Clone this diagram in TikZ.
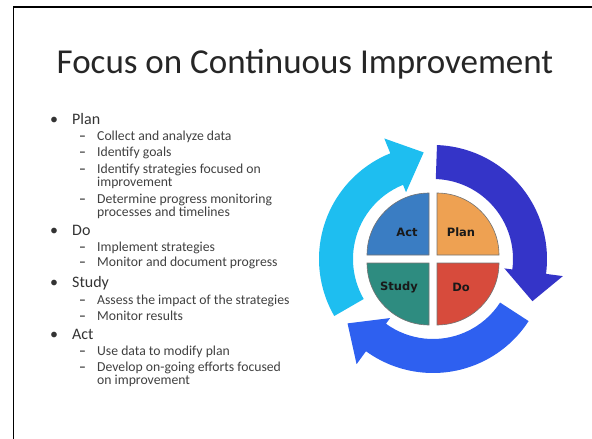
\documentclass[tikz,border=0pt]{standalone}
\usepackage{fontspec}
\setmainfont{Carlito}
\newfontfamily\labelfont{DejaVu Sans}
\usetikzlibrary{positioning}
\definecolor{cyanarrow}{HTML}{1EBEF0}
\definecolor{darkarrow}{HTML}{3434C8}
\definecolor{royalarrow}{HTML}{2E60F0}
\definecolor{actblue}{HTML}{3A7DC3}
\definecolor{planorange}{HTML}{EEA152}
\definecolor{studyteal}{HTML}{2E8C80}
\definecolor{dored}{HTML}{D74B3C}
\tikzstyle{heading} = [font=\fontsize{35}{40}\selectfont, anchor=base, inner sep=0pt, text=black!85]
\tikzstyle{mainitem} = [font=\fontsize{16}{18}\selectfont, anchor=base west, inner sep=0pt, text=black!80]
\tikzstyle{subitem} = [font=\fontsize{13.7}{13}\selectfont, anchor=base west, inner sep=0pt, align=left, text=black!75]
\tikzstyle{quarter} = [draw=black!55, line width=0.6pt]
\tikzstyle{quarterlabel} = [font=\labelfont\bfseries\fontsize{11.5}{12}\selectfont, text=black!90, inner sep=0pt]
\newcommand{\bul}{\makebox[22pt][l]{\textbullet}}
\newcommand{\dsh}{\makebox[18pt][l]{\textbf{\textendash}}}

\begin{document}
\begin{tikzpicture}[x=1pt, y=1pt]
    \useasboundingbox (0,0) rectangle (592,-439);
    \draw [line width=1.8pt] (13.5,-439) |- (592,-7);

    \node (title) [heading] at (305,-73) {Focus on Continuous Improvement};

    % list (wrapped items sit on their last line)
    \node (plan) [mainitem] at (50,-124.3) {\bul Plan};
    \node (collect) [subitem] at (79,-140.7) {\dsh Collect and analyze data};
    \node (goals) [subitem] at (79,-156.7) {\dsh Identify goals};
    \node (strat) [subitem] at (79,-186) {\dsh Identify strategies focused on\\\hspace*{18pt}improvement};
    \node (determine) [subitem] at (79,-216) {\dsh Determine progress monitoring\\\hspace*{18pt}processes and timelines};
    \node (do) [mainitem] at (50,-235.7) {\bul Do};
    \node (implement) [subitem] at (79,-251.7) {\dsh Implement strategies};
    \node (monitor) [subitem] at (79,-266.7) {\dsh Monitor and document progress};
    \node (study) [mainitem] at (50,-287.3) {\bul Study};
    \node (assess) [subitem] at (79,-304) {\dsh Assess the impact of the strategies};
    \node (results) [subitem] at (79,-320) {\dsh Monitor results};
    \node (act) [mainitem] at (50,-339) {\bul Act};
    \node (usedata) [subitem] at (79,-355) {\dsh Use data to modify plan};
    \node (develop) [subitem] at (79,-384.3) {\dsh Develop on-going efforts focused\\\hspace*{18pt}on improvement};

    % cycle
    \begin{scope}[shift={(433,-259)}]
        \fill [cyanarrow] (210:114) arc[start angle=210, end angle=112, radius=114] -- (112:130) -- (95:107) -- (112:72) -- (112:80) arc[start angle=112, end angle=210, radius=80] -- cycle;
        \fill [darkarrow] (88:114) arc[start angle=88, end angle=-7.5, radius=114] -- (-7.5:131) -- (-23:108) -- (-7.5:72) -- (-7.5:80) arc[start angle=-7.5, end angle=88, radius=80] -- cycle;
        \fill [royalarrow] (-33:114) arc[start angle=-33, end angle=-126, radius=114] -- (-126:130) -- (-143:107) -- (-126:73) -- (-126:80) arc[start angle=-126, end angle=-33, radius=80] -- cycle;

        \filldraw [quarter, fill=actblue] (-4,4) -- (-66,4) arc[start angle=180, end angle=90, radius=62] -- cycle;
        \filldraw [quarter, fill=planorange] (4,4) -- (4,66) arc[start angle=90, end angle=0, radius=62] -- cycle;
        \filldraw [quarter, fill=studyteal] (-4,-4) -- (-4,-66) arc[start angle=270, end angle=180, radius=62] -- cycle;
        \filldraw [quarter, fill=dored] (4,-4) -- (66,-4) arc[start angle=0, end angle=-90, radius=62] -- cycle;
    \end{scope}

    \node (actlabel) [quarterlabel] at (407,-232) {Act};
    \node (planlabel) [quarterlabel] at (461,-232) {Plan};
    \node (studylabel) [quarterlabel] at (399,-287) {Study};
    \node (dolabel) [quarterlabel] at (461,-287) {Do};
\end{tikzpicture}
\end{document}
